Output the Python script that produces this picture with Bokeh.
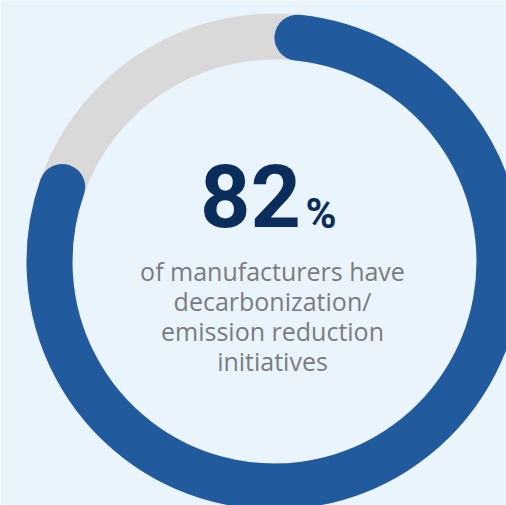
import math
from bokeh.plotting import figure
from bokeh.models import Range1d
from bokeh.core.properties import value
from bokeh.embed import file_html
from bokeh.resources import INLINE

# ---- data ----
share_pct = [82]
headline = ["82"]
unit = ["%"]
caption_lines = ["of manufacturers have", "decarbonization/", "emission reduction", "initiatives"]

BG = "#EAF4FD"
BLUE = "#215B9E"
GRAY = "#D9D9D9"
NAVY = "#0B2D5C"
TEXT = "#7A7C80"

RING_R = 225
RING_W = 46

p = figure(width=506, height=505, output_backend="svg", toolbar_location=None,
           x_range=Range1d(-274, 232), y_range=Range1d(-244, 261),
           x_axis_type=None, y_axis_type=None, min_border=0)
p.grid.visible = False
p.outline_line_color = None
p.background_fill_color = BG
p.border_fill_color = BG

# background ring
p.annulus(x=[0], y=[0], inner_radius=RING_R - RING_W / 2, outer_radius=RING_R + RING_W / 2,
          fill_color=GRAY, line_color=None)

# blue arc: tip-to-tip span equals the share
cap = (RING_W / 2) / RING_R
frac = share_pct[0] / 100
phi_s = cap
phi_e = frac * 2 * math.pi - cap
p.arc(x=[0], y=[0], radius=RING_R,
      start_angle=[math.pi / 2 - phi_s], end_angle=[math.pi / 2 - phi_e],
      direction="clock", line_color=BLUE, line_width=RING_W, line_cap="round")

# headline
p.text(x=[26.5], y=[66], text=headline, text_font=value("Roboto"), text_font_style="bold",
       text_font_size="88px", text_color=NAVY, text_align="right", text_baseline="alphabetic")
p.text(x=[31], y=[48], text=unit, text_font=value("Roboto"), text_font_style="bold",
       text_font_size="42px", text_color=NAVY, text_align="left", text_baseline="alphabetic")

# caption
ys = [-9 - 30 * i for i in range(len(caption_lines))]
p.text(x=[-2] * len(caption_lines), y=ys, text=caption_lines, text_font=value("Open Sans"),
       text_font_size="25px", text_color=TEXT, text_align="center", text_baseline="alphabetic")

open("out.html", "w").write(file_html(p, INLINE))
